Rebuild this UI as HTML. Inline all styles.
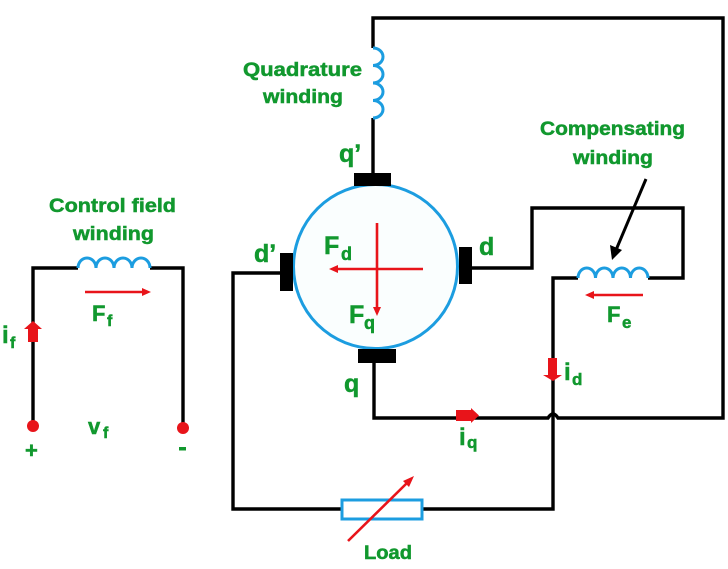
<!DOCTYPE html>
<html><head><meta charset="utf-8"><style>
html,body{margin:0;padding:0;background:#fff;}
svg{display:block;}
text{font-family:"Liberation Sans",sans-serif;font-weight:bold;fill:#11982e;stroke:#11982e;stroke-width:0.5;}
</style></head><body>
<svg width="728" height="569" viewBox="0 0 728 569" xmlns="http://www.w3.org/2000/svg">
<rect width="728" height="569" fill="#fff"/>
<!-- black wires -->
<g fill="none" stroke="#000" stroke-width="3.4" stroke-linejoin="miter">
  <!-- field circuit -->
  <path d="M33,426 V268 H78"/>
  <path d="M150,268 H183 V428"/>
  <!-- quadrature circuit -->
  <path d="M373,173 V118"/>
  <path d="M373,48 V18 H723 V418 H558 Q553,410 548,418 H374 V363"/>
  <!-- d' circuit -->
  <path d="M280,273 H233 V509 H342"/>
  <path d="M422,509 H553 V278 H578"/>
  <path d="M648,278 H683 V208 H532 V268 H472"/>
</g>
<!-- coils -->
<g fill="none" stroke="#1c9de0" stroke-width="3">
  <path d="M78,268 a9,10 0 0 1 18,0 a9,10 0 0 1 18,0 a9,10 0 0 1 18,0 a9,10 0 0 1 18,0"/>
  <path d="M578,278 a8.75,10 0 0 1 17.5,0 a8.75,10 0 0 1 17.5,0 a8.75,10 0 0 1 17.5,0 a8.75,10 0 0 1 17.5,0"/>
  <path d="M373,48 a10,8.75 0 0 1 0,17.5 a10,8.75 0 0 1 0,17.5 a10,8.75 0 0 1 0,17.5 a10,8.75 0 0 1 0,17.5"/>
  <!-- motor -->
  <circle cx="375.5" cy="266.5" r="82" fill="#fafefe" stroke-width="3"/>
  <!-- load -->
  <rect x="342" y="500" width="80" height="19" fill="#fff" stroke-width="3"/>
</g>
<!-- brushes -->
<g fill="#000">
  <rect x="354" y="173" width="37" height="13"/>
  <rect x="358" y="349" width="38" height="14"/>
  <rect x="280" y="253" width="13" height="38"/>
  <rect x="459" y="247" width="13" height="37"/>
</g>
<!-- compensating arrow (black) -->
<line x1="646" y1="179" x2="616" y2="250" stroke="#000" stroke-width="3"/>
<polygon points="612,260 610,245 622,250" fill="#000"/>
<!-- red thin arrows -->
<g stroke="#e8141a" stroke-width="2.6" fill="none">
  <line x1="85" y1="292" x2="143" y2="292"/>
  <line x1="643" y1="295" x2="593" y2="295"/>
  <line x1="337" y1="269" x2="423" y2="269"/>
  <line x1="377" y1="223" x2="377" y2="308"/>
  <line x1="348" y1="541" x2="408" y2="482"/>
</g>
<g fill="#e8141a">
  <polygon points="151,292 142,288 142,296"/>
  <polygon points="585,295 594,291 594,299"/>
  <polygon points="329,269 338,265 338,273"/>
  <polygon points="377,316 373,307 381,307"/>
  <polygon points="414,476 403,481 409,487"/>
  <!-- block arrows -->
  <rect x="28" y="328" width="10" height="14"/>
  <polygon points="24,329 42,329 33,321"/>
  <rect x="548" y="358" width="9" height="17"/>
  <polygon points="543,375 562,375 553,381"/>
  <rect x="456" y="410" width="16" height="11"/>
  <polygon points="471,408 471,423 479,415.5"/>
  <!-- terminals -->
  <circle cx="33" cy="426" r="6"/>
  <circle cx="183" cy="428" r="6"/>
</g>
<!-- text labels -->
<text x="49" y="212" font-size="19" textLength="127" lengthAdjust="spacingAndGlyphs">Control field</text>
<text x="73" y="240" font-size="19" textLength="81" lengthAdjust="spacingAndGlyphs">winding</text>
<text x="243" y="76" font-size="19" textLength="119" lengthAdjust="spacingAndGlyphs">Quadrature</text>
<text x="263" y="103" font-size="19" textLength="80" lengthAdjust="spacingAndGlyphs">winding</text>
<text x="540" y="135" font-size="19" textLength="145" lengthAdjust="spacingAndGlyphs">Compensating</text>
<text x="573" y="164" font-size="19" textLength="80" lengthAdjust="spacingAndGlyphs">winding</text>
<text x="364" y="559" font-size="19" textLength="48" lengthAdjust="spacingAndGlyphs">Load</text>
<!-- brush labels -->
<text x="339" y="162" font-size="25">q’</text>
<text x="254" y="262" font-size="25">d’</text>
<text x="479" y="255" font-size="25">d</text>
<text x="344" y="392" font-size="25">q</text>
<!-- force labels -->
<text x="324" y="254" font-size="25">F</text>
<text x="341" y="260" font-size="18">d</text>
<text x="349" y="323" font-size="25">F</text>
<text x="364" y="329" font-size="18">q</text>
<text x="92" y="321" font-size="22">F</text>
<text x="107" y="326" font-size="16">f</text>
<text x="607" y="322" font-size="22">F</text>
<text x="622" y="328" font-size="17">e</text>
<!-- current / voltage labels -->
<text x="2" y="343" font-size="24">i</text>
<text x="10" y="348" font-size="16">f</text>
<text x="564" y="380" font-size="24">i</text>
<text x="572" y="385" font-size="17">d</text>
<text x="459" y="445" font-size="24">i</text>
<text x="467" y="448" font-size="17">q</text>
<text x="88" y="434" font-size="22">v</text>
<text x="103" y="438" font-size="16">f</text>
<text x="25" y="458" font-size="22">+</text>
<rect x="179" y="447" width="7" height="3.5" fill="#11982e"/>
</svg>
</body></html>
